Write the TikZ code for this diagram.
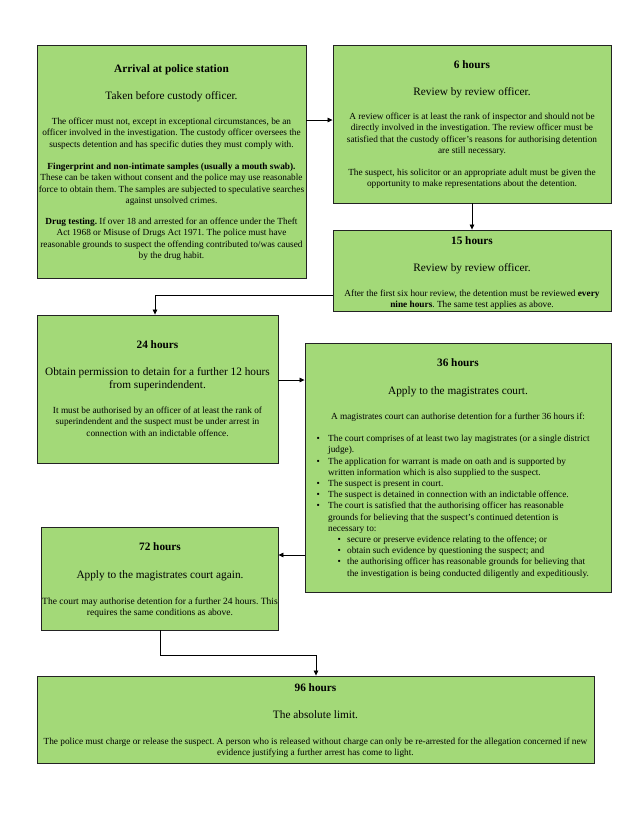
\documentclass[tikz,border=0pt]{standalone}
\usepackage{fontspec}
\setmainfont{Liberation Serif}
\usetikzlibrary{arrows.meta,shadows}
\definecolor{boxgreen}{RGB}{163,217,120}
\definecolor{boxline}{RGB}{35,35,35}
\frenchspacing
\begin{document}
\frenchspacing
\begin{tikzpicture}[x=1pt,y=-1pt,
  box/.style={draw=boxline, line width=0.9pt, fill=boxgreen, inner sep=0pt,
    drop shadow={shadow xshift=0.9pt,shadow yshift=-0.9pt,opacity=0.35,fill=black}},
  ttl/.style={font=\fontsize{11.3}{13}\selectfont\bfseries, inner sep=0pt, anchor=base},
  sub/.style={font=\fontsize{11.3}{12.4}\selectfont, inner sep=0pt, anchor=base, align=center},
  subp/.style={font=\fontsize{11.3}{12.4}\selectfont, inner sep=0pt, anchor=north, align=center},
  bod/.style={font=\fontsize{9.3}{11.2}\selectfont, inner sep=0pt, anchor=north, align=center},
  conn/.style={draw=black, line width=0.8pt, -{Triangle[length=5pt,width=4.6pt]}},
]
\useasboundingbox[fill=white] (0,0) rectangle (630,815);

% ---------- boxes ----------
\node[box, minimum width=269pt, minimum height=233pt] (b1) at (171.5,161.5) {};
\node[box, minimum width=278pt, minimum height=158pt] (b2) at (472,124) {};
\node[box, minimum width=278pt, minimum height=81pt]  (b3) at (472,270.5) {};
\node[box, minimum width=241pt, minimum height=148pt] (b4) at (157.5,389) {};
\node[box, minimum width=306pt, minimum height=249pt] (b5) at (458,467.5) {};
\node[box, minimum width=237pt, minimum height=103pt] (b6) at (159.5,578.5) {};
\node[box, minimum width=557pt, minimum height=87pt]  (b7) at (315.5,719.5) {};

% ---------- box 1 ----------
\node[ttl] (t1) at (171.5,72) {Arrival at police station};
\node[sub] (s1) at (171.5,99.5) {Taken before custody officer.};
\node[bod] (p1a) at (171.5,116.7) {\strut The officer must not, except in exceptional circumstances, be an\\
officer involved in the investigation. The custody officer oversees the\\
suspects detention and has specific duties they must comply with.};
\node[bod] (p1b) at (171.5,161.7) {\strut\textbf{Fingerprint and non-intimate samples (usually a mouth swab).}\\
These can be taken without consent and the police may use reasonable\\
force to obtain them. The samples are subjected to speculative searches\\
against unsolved crimes.};
\node[bod] (p1c) at (171.5,216.7) {\strut\textbf{Drug testing.} If over 18 and arrested for an offence under the Theft\\
Act 1968 or Misuse of Drugs Act 1971. The police must have\\
reasonable grounds to suspect the offending contributed to/was caused\\
by the drug habit.};

% ---------- box 2 ----------
\node[ttl] (t2) at (472,68.5) {6 hours};
\node[sub] (s2) at (472,95.5) {Review by review officer.};
\node[bod] (p2a) at (472,111.7) {\strut A review officer is at least the rank of inspector and should not be\\
directly involved in the investigation. The review officer must be\\
satisfied that the custody officer's reasons for authorising detention\\
are still necessary.};
\node[bod] (p2b) at (472,167.2) {\strut The suspect, his solicitor or an appropriate adult must be given the\\
opportunity to make representations about the detention.};

% ---------- box 3 ----------
\node[ttl] (t3) at (472,244) {15 hours};
\node[sub] (s3) at (472,271) {Review by review officer.};
\node[bod] (p3) at (472,288.2) {\strut After the first six hour review, the detention must be reviewed \textbf{every}\\
\textbf{nine hours}. The same test applies as above.};

% ---------- box 4 ----------
\node[ttl] (t4) at (157.5,348) {24 hours};
\node[subp] (s4) at (157.5,366.8) {\strut Obtain permission to detain for a further 12 hours\\
from superindendent.};
\node[bod] (p4) at (157.5,405.7) {\strut It must be authorised by an officer of at least the rank of\\
superindendent and the suspect must be under arrest in\\
connection with an indictable offence.};

% ---------- box 5 ----------
\node[ttl] (t5) at (458,366) {36 hours};
\node[sub] (s5) at (458,394) {Apply to the magistrates court.};
\node[font=\fontsize{9.3}{11.2}\selectfont, inner sep=0pt, anchor=base] (i5) at (458,419)
  {A magistrates court can authorise detention for a further 36 hours if:};
\node[font=\fontsize{9.3}{11.2}\selectfont, inner sep=0pt, anchor=north west] (l5) at (316.3,433.7) {%
\begin{tabular}{@{}p{11.7pt}@{}p{19pt}@{}l@{}}
\textbullet & \multicolumn{2}{@{}l@{}}{The court comprises of at least two lay magistrates (or a single district}\\
 & \multicolumn{2}{@{}l@{}}{judge).}\\
\textbullet & \multicolumn{2}{@{}l@{}}{The application for warrant is made on oath and is supported by}\\
 & \multicolumn{2}{@{}l@{}}{written information which is also supplied to the suspect.}\\
\textbullet & \multicolumn{2}{@{}l@{}}{The suspect is present in court.}\\
\textbullet & \multicolumn{2}{@{}l@{}}{The suspect is detained in connection with an indictable offence.}\\
\textbullet & \multicolumn{2}{@{}l@{}}{The court is satisfied that the authorising officer has reasonable}\\
 & \multicolumn{2}{@{}l@{}}{grounds for believing that the suspect's continued detention is}\\
 & \multicolumn{2}{@{}l@{}}{necessary to:}\\
 & \hspace*{9.3pt}\textbullet & secure or preserve evidence relating to the offence; or\\
 & \hspace*{9.3pt}\textbullet & obtain such evidence by questioning the suspect; and\\
 & \hspace*{9.3pt}\textbullet & the authorising officer has reasonable grounds for believing that\\
 & & the investigation is being conducted diligently and expeditiously.\\
\end{tabular}};

% ---------- box 6 ----------
\node[ttl] (t6) at (160,550) {72 hours};
\node[sub] (s6) at (160,578) {Apply to the magistrates court again.};
\node[bod, font=\fontsize{9.5}{11.2}\selectfont] (p6) at (160,596.2) {\strut The court may authorise detention for a further 24 hours. This\\
requires the same conditions as above.};

% ---------- box 7 ----------
\node[ttl] (t7) at (315.5,691) {96 hours};
\node[sub] (s7) at (315.5,718) {The absolute limit.};
\node[bod] (p7) at (315.5,736.2) {\strut The police must charge or release the suspect. A person who is released without charge can only be re-arrested for the allegation concerned if new\\
evidence justifying a further arrest has come to light.};

% ---------- connectors ----------
\coordinate (k34) at (155,295);
\coordinate (k67) at (160,655);
\draw[conn] (b1.east |- 0,120) -- (b2.west |- 0,120);
\draw[conn] (b2.south) -- (b3.north);
\draw[conn] (b3.west |- k34) -- (k34) -- (b4.north -| k34);
\draw[conn] (b4.east |- 0,380) -- (b5.west |- 0,380);
\draw[conn] (b5.west |- 0,555) -- (b6.east |- 0,555);
\draw[conn] (b6.south -| k67) -- (k67) -| (b7.north -| 316,0);
\end{tikzpicture}
\end{document}
